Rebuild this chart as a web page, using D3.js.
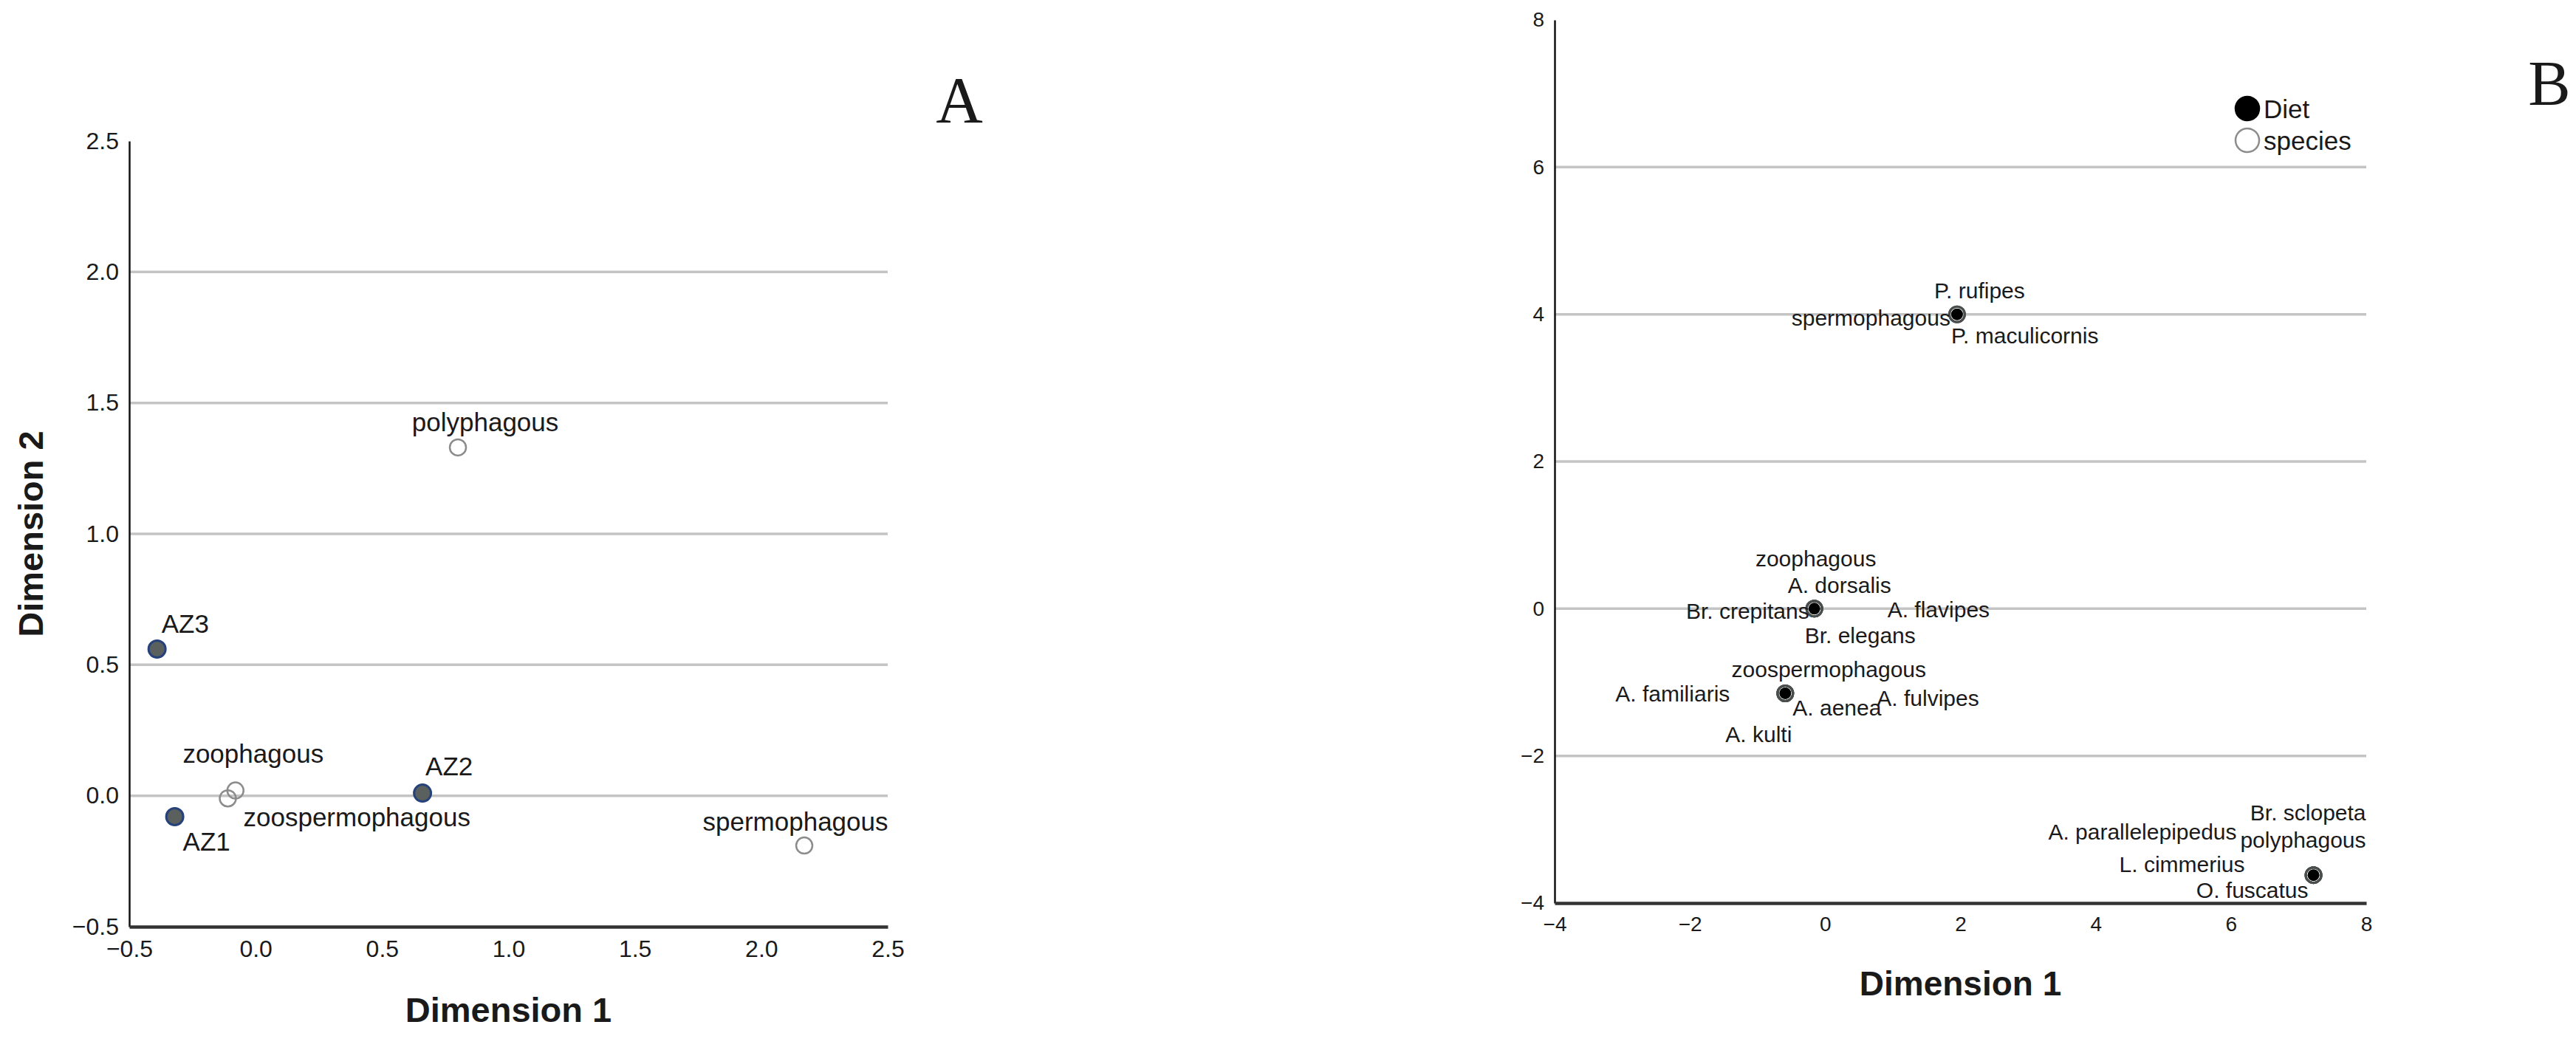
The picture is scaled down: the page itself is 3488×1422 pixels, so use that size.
<!DOCTYPE html>
<html>
<head>
<meta charset="utf-8">
<script src="https://cdn.jsdelivr.net/npm/d3@7"></script>
<style>
body { margin: 0; background: #fff; }
svg text { font-family: "Liberation Sans", Arial, sans-serif; fill: #1a1a1a; }
</style>
</head>
<body>
<svg id="chart" width="3488" height="1422"></svg>
<script>
/*******************************************************************************
 * Panel A : zones and diets
 *******************************************************************************/
var zoneNames = ["AZ1", "AZ2", "AZ3"];
var zoneDim1 = [-0.32, 0.66, -0.39];
var zoneDim2 = [-0.08, 0.01, 0.56];

var dietNamesA = ["zoophagous", "zoospermophagous", "polyphagous", "spermophagous"];
var dietDim1A = [-0.08, -0.11, 0.80, 2.17];
var dietDim2A = [0.02, -0.01, 1.33, -0.19];

var ticksA = [-0.5, 0.0, 0.5, 1.0, 1.5, 2.0, 2.5];

/*******************************************************************************
 * Panel B : diets and species
 *******************************************************************************/
var dietNamesB = ["spermophagous", "zoophagous", "zoospermophagous", "polyphagous"];
var dietDim1B = [1.95, -0.16, -0.59, 7.22];
var dietDim2B = [4.00, 0.00, -1.15, -3.62];

var speciesNames = ["P. rufipes", "P. maculicornis",
    "A. dorsalis", "Br. crepitans", "A. flavipes", "Br. elegans",
    "A. familiaris", "A. aenea", "A. fulvipes", "A. kulti",
    "Br. sclopeta", "A. parallelepipedus", "L. cimmerius", "O. fuscatus"];
var speciesDim1 = [1.95, 1.95,
    -0.16, -0.16, -0.16, -0.16,
    -0.59, -0.59, -0.59, -0.59,
    7.22, 7.22, 7.22, 7.22];
var speciesDim2 = [4.00, 4.00,
    0.00, 0.00, 0.00, 0.00,
    -1.15, -1.15, -1.15, -1.15,
    -3.62, -3.62, -3.62, -3.62];

var ticksB = [-4, -2, 0, 2, 4, 6, 8];
var legendB = ["Diet", "species"];

// label placement around the points (pixels), like SPSS put them
var labelsA = {
    "AZ1": ["start", 11, 33], "AZ2": ["start", 4, -37], "AZ3": ["start", 6, -35],
    "zoophagous": ["middle", 24, -50], "zoospermophagous": ["start", 21, 25],
    "polyphagous": ["middle", 37, -34], "spermophagous": ["middle", -12, -33]
};
var labelsB = {
    "spermophagous": ["end", -9, 5], "P. rufipes": ["start", -31, -32], "P. maculicornis": ["start", -8, 29],
    "zoophagous": ["middle", 2, -68], "A. dorsalis": ["start", -36, -32], "Br. crepitans": ["end", -7, 3],
    "A. flavipes": ["start", 99, 1], "Br. elegans": ["start", -13, 36],
    "zoospermophagous": ["middle", 59, -32], "A. familiaris": ["end", -75, 1], "A. aenea": ["start", 10, 20],
    "A. fulvipes": ["start", 124, 7], "A. kulti": ["end", 9, 56],
    "polyphagous": ["end", 71, -48], "Br. sclopeta": ["end", 71, -85], "A. parallelepipedus": ["end", -104, -59],
    "L. cimmerius": ["end", -93, -15], "O. fuscatus": ["end", -7, 20]
};

var svg = d3.select("#chart");

function makeFrame(box, xDom, yDom, ticks, fmt, tickFont) {
    let g = svg.append("g");
    let x = d3.scaleLinear().domain(xDom).range([box.left, box.right]);
    let y = d3.scaleLinear().domain(yDom).range([box.bottom, box.top]);

    // grid lines
    g.selectAll("line.grid")
        .data(ticks.filter(function(t) { return t > yDom[0] && t < yDom[1]; }))
        .enter().append("line")
        .attr("x1", box.left).attr("x2", box.right)
        .attr("y1", function(d) { return y(d); })
        .attr("y2", function(d) { return y(d); })
        .attr("stroke", "#c4c4c4")
        .attr("stroke-width", 3.5);

    let yAxis = g.append("g")
        .attr("transform", "translate(" + box.left + ",0)")
        .call(d3.axisLeft(y).tickValues(ticks).tickSize(0).tickPadding(14).tickFormat(fmt));
    yAxis.select(".domain").attr("stroke", "#111").attr("stroke-width", 2.5);

    let xAxis = g.append("g")
        .attr("transform", "translate(0," + box.bottom + ")")
        .call(d3.axisBottom(x).tickValues(ticks).tickSize(0).tickPadding(18).tickFormat(fmt));
    xAxis.select(".domain").attr("stroke", "#333").attr("stroke-width", 4.5);

    g.selectAll(".tick text")
        .attr("font-size", tickFont)
        .attr("fill", "#2a2a2a")
        .style("font-family", "'Liberation Sans', Arial, sans-serif");
    return {g: g, x: x, y: y};
}

function addLabels(g, names, xs, ys, x, y, place, size) {
    g.selectAll(null)
        .data(names)
        .enter().append("text")
        .attr("x", function(d, i) { return x(xs[i]) + place[d][1]; })
        .attr("y", function(d, i) { return y(ys[i]) + place[d][2]; })
        .attr("text-anchor", function(d) { return place[d][0]; })
        .attr("dominant-baseline", "central")
        .attr("font-size", size)
        .text(function(d) { return d; });
}

/******************************* panel A **************************************/
var boxA = {left: 175, right: 1202, top: 191, bottom: 1255};
var A = makeFrame(boxA, [-0.5, 2.5], [-0.5, 2.5], ticksA, d3.format(".1f"), 32);

A.g.selectAll("circle.diet")
    .data(dietNamesA)
    .enter().append("circle")
    .attr("cx", function(d, i) { return A.x(dietDim1A[i]); })
    .attr("cy", function(d, i) { return A.y(dietDim2A[i]); })
    .attr("r", 11)
    .attr("fill", "none")
    .attr("stroke", "#8c8c8c")
    .attr("stroke-width", 2.5);

A.g.selectAll("circle.zone")
    .data(zoneNames)
    .enter().append("circle")
    .attr("cx", function(d, i) { return A.x(zoneDim1[i]); })
    .attr("cy", function(d, i) { return A.y(zoneDim2[i]); })
    .attr("r", 11.5)
    .attr("fill", "#5a605e")
    .attr("stroke", "#27427a")
    .attr("stroke-width", 3);

addLabels(A.g, zoneNames, zoneDim1, zoneDim2, A.x, A.y, labelsA, 35);
addLabels(A.g, dietNamesA, dietDim1A, dietDim2A, A.x, A.y, labelsA, 35);

svg.append("text")
    .attr("x", (boxA.left + boxA.right) / 2).attr("y", 1367)
    .attr("text-anchor", "middle").attr("dominant-baseline", "central")
    .attr("font-size", 47).attr("font-weight", "bold")
    .text("Dimension 1");
svg.append("text")
    .attr("transform", "translate(41," + (boxA.top + boxA.bottom) / 2 + ") rotate(-90)")
    .attr("text-anchor", "middle").attr("dominant-baseline", "central")
    .attr("font-size", 47).attr("font-weight", "bold")
    .text("Dimension 2");
svg.append("text")
    .attr("x", 1299).attr("y", 165)
    .attr("text-anchor", "middle")
    .attr("font-size", 88)
    .style("font-family", "'Liberation Serif', 'Times New Roman', serif")
    .text("A");

/******************************* panel B **************************************/
var boxB = {left: 2105, right: 3204, top: 27, bottom: 1223};
var B = makeFrame(boxB, [-4, 8], [-4, 8], ticksB, d3.format("d"), 28);

B.g.selectAll("circle.species")
    .data(speciesNames)
    .enter().append("circle")
    .attr("cx", function(d, i) { return B.x(speciesDim1[i]); })
    .attr("cy", function(d, i) { return B.y(speciesDim2[i]); })
    .attr("r", 10.5)
    .attr("fill", "none")
    .attr("stroke", "#4a4f4d")
    .attr("stroke-width", 3);

B.g.selectAll("circle.diet")
    .data(dietNamesB)
    .enter().append("circle")
    .attr("cx", function(d, i) { return B.x(dietDim1B[i]); })
    .attr("cy", function(d, i) { return B.y(dietDim2B[i]); })
    .attr("r", 8)
    .attr("fill", "#000");

addLabels(B.g, dietNamesB, dietDim1B, dietDim2B, B.x, B.y, labelsB, 30);
addLabels(B.g, speciesNames, speciesDim1, speciesDim2, B.x, B.y, labelsB, 30);

// legend
var leg = svg.append("g").attr("transform", "translate(3043,147)");
leg.selectAll("circle")
    .data(legendB)
    .enter().append("circle")
    .attr("cx", 0)
    .attr("cy", function(d, i) { return i * 43; })
    .attr("r", 16)
    .attr("fill", function(d, i) { return i == 0 ? "#000" : "#fff"; })
    .attr("stroke", function(d, i) { return i == 0 ? "#000" : "#8c8c8c"; })
    .attr("stroke-width", 2.5);
leg.selectAll("text")
    .data(legendB)
    .enter().append("text")
    .attr("x", 22)
    .attr("y", function(d, i) { return i * 43; })
    .attr("dominant-baseline", "central")
    .attr("font-size", 35)
    .text(function(d) { return d; });

svg.append("text")
    .attr("x", (boxB.left + boxB.right) / 2).attr("y", 1332)
    .attr("text-anchor", "middle").attr("dominant-baseline", "central")
    .attr("font-size", 46).attr("font-weight", "bold")
    .text("Dimension 1");
svg.append("text")
    .attr("x", 3452).attr("y", 142)
    .attr("text-anchor", "middle")
    .attr("font-size", 86)
    .style("font-family", "'Liberation Serif', 'Times New Roman', serif")
    .text("B");
</script>
</body>
</html>
